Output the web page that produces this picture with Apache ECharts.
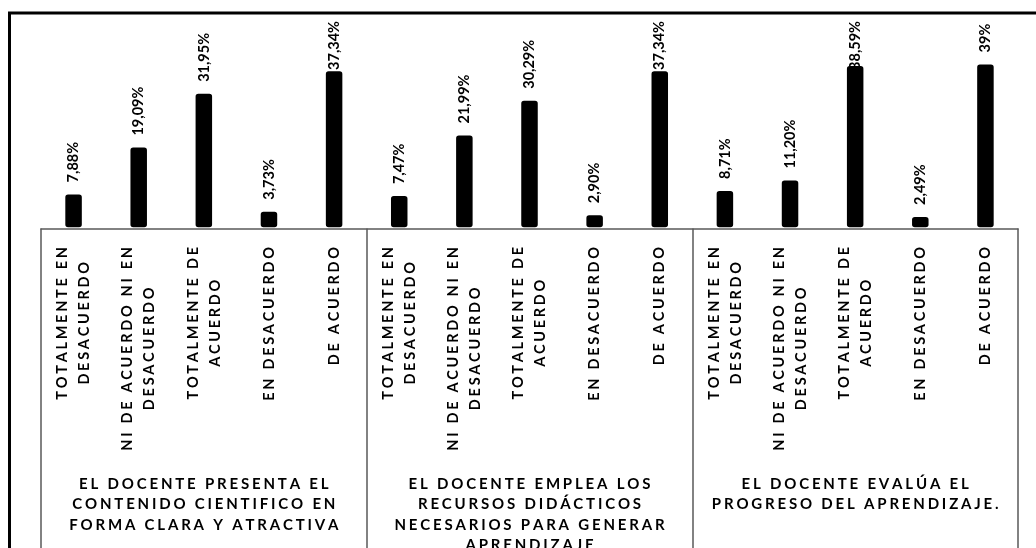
<!DOCTYPE html>
<html><head><meta charset="utf-8">
<script src="https://cdn.jsdelivr.net/npm/echarts@6/dist/echarts.min.js"></script>
<style>html,body{margin:0;padding:0;background:#fff}#c{width:1036px;height:548px}</style>
</head><body><div id="c"></div>
<script>
// ---- data ----
const responseLabels = [
  'TOTALMENTE EN\nDESACUERDO',
  'NI DE ACUERDO NI EN\nDESACUERDO',
  'TOTALMENTE DE\nACUERDO',
  'EN DESACUERDO',
  'DE ACUERDO'
];
const groupLabels = [
  'EL DOCENTE PRESENTA EL\nCONTENIDO CIENTIFICO EN\nFORMA CLARA Y ATRACTIVA',
  'EL DOCENTE EMPLEA LOS\nRECURSOS DIDÁCTICOS\nNECESARIOS PARA GENERAR\nAPRENDIZAJE',
  'EL DOCENTE EVALÚA EL\nPROGRESO DEL APRENDIZAJE.'
];
const group1Values = [7.88, 19.09, 31.95, 3.73, 37.34];
const group2Values = [7.47, 21.99, 30.29, 2.90, 37.34];
const group3Values = [8.71, 11.20, 38.59, 2.49, 39];

const categories = [].concat(responseLabels, responseLabels, responseLabels);
const values = [].concat(group1Values, group2Values, group3Values);

// ---- styling / layout ----
const FONT = 'Lato, "Open Sans", "DejaVu Sans", sans-serif';
const ZERO_Y = 227.3, AXIS_Y = 228.5, PX_PER_UNIT = 4.177, Y_MAX = 50;
const H = 548;
const LABEL_TOP = 21, LABEL_DIST = 12;
const SEP_CAT = '\u2009\u200A', SEP_GRP = '\u2009\u200A';
const LINE_COLOR = '#5a5a5a';

function fmtValue(v) {
  return (Number.isInteger(v) ? String(v) : v.toFixed(2).replace('.', ',')) + '%';
}
function spread(line, sep) { return Array.from(line).join(sep); }
function richLines(text, sep) {
  return text.split('\n').map(l => '{c|' + spread(l, sep) + '}').join('\n');
}

const chart = echarts.init(document.getElementById('c'), null, {renderer: 'canvas'});
const gridHeight = PX_PER_UNIT * Y_MAX;

const option = {
  animation: false,
  backgroundColor: '#fff',
  grid: {left: 41, right: 18, top: ZERO_Y - gridHeight, bottom: H - ZERO_Y, outerBoundsMode: 'none'},
  xAxis: [
    {
      type: 'category', data: categories, position: 'bottom', offset: AXIS_Y - ZERO_Y,
      axisLine: {show: false, onZero: false}, axisTick: {show: false},
      axisLabel: {
        interval: 0, rotate: 90, margin: 18.5, color: '#000',
        formatter: v => richLines(v, SEP_CAT),
        rich: {c: {align: 'center', fontFamily: FONT, fontWeight: 'bold', fontSize: 14.5, lineHeight: 22, color: '#000'}}
      }
    },
    {
      type: 'category', data: groupLabels, position: 'bottom', offset: AXIS_Y - ZERO_Y,
      axisLine: {show: true, onZero: false, lineStyle: {color: LINE_COLOR, width: 1.5}},
      axisTick: {show: true, interval: 0, length: 330, lineStyle: {color: LINE_COLOR, width: 1.5}},
      axisLabel: {
        interval: 0, margin: 245.25, color: '#000',
        formatter: v => richLines(v, SEP_GRP),
        rich: {c: {align: 'center', fontFamily: FONT, fontWeight: 'bold', fontSize: 15, lineHeight: 20.5, color: '#000'}}
      }
    }
  ],
  yAxis: {type: 'value', min: 0, max: Y_MAX, show: false, splitLine: {show: false}},
  graphic: [{
    type: 'rect', z: 100, silent: true,
    shape: {x: 9.5, y: 13, width: 1100, height: 700},
    style: {fill: null, stroke: '#000', lineWidth: 3}
  }],
  series: [{
    type: 'bar', xAxisIndex: 0, yAxisIndex: 0,
    data: values,
    barWidth: 16.5,
    itemStyle: {color: '#000', borderColor: '#000', borderWidth: 5.5, borderJoin: 'round'},
    label: {
      show: true, position: 'top', rotate: 90, align: 'left', verticalAlign: 'middle',
      distance: LABEL_DIST, formatter: p => fmtValue(p.value),
      fontFamily: FONT, fontWeight: 'bold', fontSize: 14.5, color: '#000'
    }
  }]
};
chart.setOption(option);

// keep value labels inside the chart area (clamp their top like the original)
const ctx = document.createElement('canvas').getContext('2d');
ctx.font = 'bold 14.5px ' + FONT;
const dataWithLabels = values.map((v, i) => {
  const top = chart.convertToPixel({seriesIndex: 0}, [i, v])[1];
  const len = ctx.measureText(fmtValue(v)).width;
  const d = Math.min(LABEL_DIST, top - LABEL_TOP - len);
  return {value: v, label: {distance: d}};
});
chart.setOption({series: [{data: dataWithLabels}]});
</script>
</body></html>
